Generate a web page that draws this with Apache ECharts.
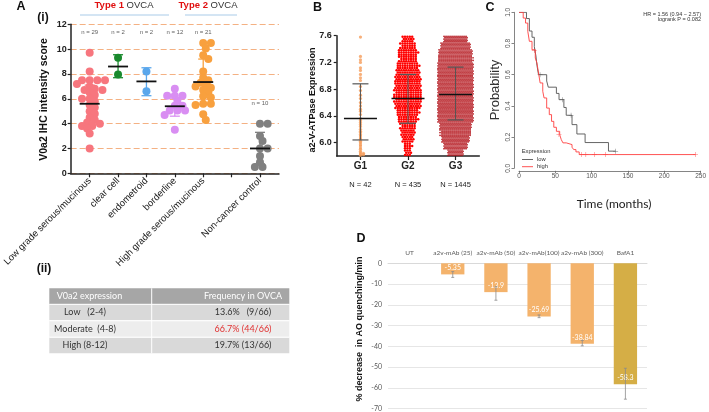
<!DOCTYPE html>
<html><head><meta charset="utf-8">
<script src="https://cdn.jsdelivr.net/npm/echarts@6/dist/echarts.min.js"></script>
<style>html,body{margin:0;padding:0;background:#fff}#c{width:709px;height:412px}</style>
</head><body><div id="c"></div>
<script>
// ---------- Panel A(i) data ----------
const catsA = ['Low grade serous/mucinous','clear cell','endometroid','borderline','High grade serous/mucinous','','Non-cancer control'];
const nA = ['n = 29','n = 2','n = 2','n = 12','n = 21','','n = 10'];
const lowGrade = [9.7, 8.2, 7.5, 7.5, 7.5, 7.5, 7.2, 7.0, 6.8, 6.7, 6.7, 6.5, 6.3, 6.0, 6.0, 5.8, 5.5, 5.3, 5.0, 4.8, 4.5, 4.3, 4.1, 4.0, 3.8, 3.8, 3.6, 3.2, 2.0];
const clearCell = [9.3, 7.95];
const endometroid = [8.2, 6.6];
const borderline = [6.8, 6.25, 6.25, 6.25, 5.85, 5.45, 5.45, 5.05, 5.05, 5.05, 4.7, 3.5];
const highGrade = [10.5, 10.5, 10.05, 9.5, 9.2, 8.2, 7.7, 7.5, 7.3, 7.1, 7.0, 6.9, 6.7, 6.5, 6.2, 6.1, 5.6, 5.6, 5.5, 4.75, 4.3];
const nonCancer = [4.0, 4.0, 3.0, 2.6, 2.0, 2.0, 1.4, 0.9, 0.5, 0.5];
const meanA = [5.6, 8.6, 7.4, 5.4, 7.35, null, 2.0];
const sdLoA = [4.1, 7.7, 6.25, 4.6, 5.55, null, 0.75];
const sdHiA = [7.1, 9.55, 8.5, 6.05, 9.2, null, 3.3];
const colorsA = ['#f7767e','#1a8a2e','#5aa7ec','#d98ef2','#f8a03e',null,'#808080'];
const groupsA = [lowGrade, clearCell, endometroid, borderline, highGrade, null, nonCancer];

// ---------- Panel A(ii) table ----------
const tableHead = ['V0a2 expression','Frequency in OVCA'];
const tableLevel = ['Low   (2-4)','Moderate  (4-8)','High (8-12)'];
const tableFreq = ['13.6%   (9/66)','66.7% (44/66)','19.7% (13/66)'];

// ---------- Panel B data ----------
const catsB = ['G1','G2','G3'];
const nB = ['N = 42','N = 435','N = 1445'];
const g1Values = [7.58, 7.29, 7.24, 7.2, 7.12, 7.08, 7.02, 6.97, 6.93, 6.84, 6.78, 6.71, 6.66, 6.6, 6.55, 6.5, 6.47, 6.42, 6.36, 6.33, 6.3, 6.27, 6.24, 6.2, 6.17, 6.15, 6.12, 6.1, 6.07, 6.05, 6.02, 6.0, 5.97, 5.95, 5.92, 5.9, 5.87, 5.85, 5.84, 5.83, 5.82, 5.81];
const binStartsB = [5.8,5.9,6.0,6.1,6.2,6.3,6.4,6.5,6.6,6.7,6.8,6.9,7.0,7.1,7.2,7.3,7.4,7.5];
const binWidthB = 0.1;
const g2Counts = [9,10,15,18,20,25,28,33,35,35,33,33,30,28,23,25,20,15];
const g3Counts = [40,60,70,78,80,90,90,90,90,90,90,90,90,90,87,85,75,60];
const meanB = [6.36, 6.66, 6.72];
const sdLoB = [6.04, 6.29, 6.34];
const sdHiB = [6.88, 7.02, 7.13];

// ---------- Panel C data ----------
const kmLowT = [0, 10.3, 14.3, 17.9, 21.1, 23.3, 24.7, 26.9, 38.1, 40.3, 51.5, 55.1, 61.8, 65, 73, 79.7, 91, 123.2, 133];
const kmLowP = [1.0, 0.96, 0.88, 0.84, 0.78, 0.72, 0.66, 0.60, 0.56, 0.52, 0.48, 0.44, 0.39, 0.34, 0.28, 0.22, 0.165, 0.11, 0.11];
const censLowT = [29, 59.6, 71.7, 133];
const censLowP = [0.60, 0.44, 0.34, 0.11];
const kmHighT = [0, 5.8, 9, 12.1, 14.3, 17.9, 22.4, 24.7, 26.9, 29.1, 32.7, 34.5, 38.1, 41.7, 44.8, 47.9, 51.5, 56, 58.2, 60.5, 65, 73, 75.3, 78.4, 82.9, 243];
const kmHighP = [1.0, 0.963, 0.931, 0.878, 0.814, 0.76, 0.707, 0.675, 0.611, 0.547, 0.494, 0.451, 0.386, 0.344, 0.301, 0.263, 0.237, 0.216, 0.184, 0.163, 0.152, 0.135, 0.12, 0.105, 0.088, 0.088];
const censHighT = [21, 55, 86, 92, 104, 119, 243];
const censHighP = [0.755, 0.216, 0.088, 0.088, 0.088, 0.088, 0.088];

// ---------- Panel D data ----------
const catsD = ['UT','a2v-mAb (25)','a2v-mAb (50)','a2v-mAb(100)','a2v-mAb (300)','BafA1'];
const valD = [0, -5.35, -13.9, -25.69, -38.84, -58.3];
const errLoD = [null, -6.8, -17.8, -26.2, -39.8, -65.5];
const errHiD = [null, -4.0, -11.3, -24.9, -37.2, -50.6];

// ---------- helpers ----------
const F = 'Liberation Sans, Arial, sans-serif';
const F2 = 'Lato, "Open Sans", sans-serif';

function beeswarm(vals, center, pxPerX, pxPerY, diam, step) {
  const placed = [], out = [];
  vals.forEach(v => {
    const yp = v * pxPerY;
    for (let k = 0; k < 400; k++) {
      const m = k === 0 ? 0 : (k % 2 ? Math.ceil(k / 2) : -Math.ceil(k / 2));
      const xp = m * step;
      if (placed.every(p => (p[0] - xp) ** 2 + (p[1] - yp) ** 2 >= diam * diam)) {
        placed.push([xp, yp]); out.push([center + xp / pxPerX, v]); break;
      }
    }
  });
  return out;
}

const chart = echarts.init(document.getElementById('c'), null, {renderer: 'canvas'});
const series = [];
// A scatter
groupsA.forEach((g, i) => {
  if (!g) return;
  series.push({type: 'scatter', xAxisIndex: 0, yAxisIndex: 0, symbolSize: 8,
    itemStyle: {color: colorsA[i], opacity: 1}, data: beeswarm(g, i, 28.92, 12.42, 5.6, 2.6), z: 2});
});
// A n labels
series.push({type: 'scatter', xAxisIndex: 0, yAxisIndex: 0, symbolSize: 0,
  data: nA.map((t, i) => t ? [i, i === 6 ? 5.6 : 11.35] : null).filter(Boolean),
  label: {show: true, position: 'inside', fontSize: 6, color: '#333', fontFamily: F,
    formatter: p => nA[Math.round(p.value[0])]}});
// A error bars and means
series.push({type: 'custom', xAxisIndex: 0, yAxisIndex: 0, z: 5,
  data: meanA.map((m, i) => m == null ? null : [i, m, sdLoA[i], sdHiA[i]]).filter(Boolean),
  renderItem: (params, api) => {
    const i = api.value(0);
    const pm = api.coord([i, api.value(1)]), pl = api.coord([i, api.value(2)]), ph = api.coord([i, api.value(3)]);
    const col = colorsA[i];
    return {type: 'group', children: [
      {type: 'line', shape: {x1: pl[0], y1: pl[1], x2: ph[0], y2: ph[1]}, style: {stroke: col, lineWidth: 1.3}},
      {type: 'line', shape: {x1: pl[0] - 5, y1: pl[1], x2: pl[0] + 5, y2: pl[1]}, style: {stroke: col, lineWidth: 1.3}},
      {type: 'line', shape: {x1: ph[0] - 5, y1: ph[1], x2: ph[0] + 5, y2: ph[1]}, style: {stroke: col, lineWidth: 1.3}},
      {type: 'line', shape: {x1: pm[0] - 10, y1: pm[1], x2: pm[0] + 10, y2: pm[1]}, style: {stroke: '#111', lineWidth: 1.8}}
    ]};
  }});
// B G1
series.push({type: 'scatter', xAxisIndex: 1, yAxisIndex: 1, symbolSize: 3.2,
  itemStyle: {color: '#f59c5a'}, data: beeswarm(g1Values, 0, 47.53, 167.25, 3.0, 1.5)});
function swarmRender(cat, radius, sp, rowGap, color) {
  return (params, api) => {
    const lo = api.value(0), cnt = api.value(1);
    const pBot = api.coord([cat, lo]), pTop = api.coord([cat, lo + binWidthB]);
    const h = pBot[1] - pTop[1];
    const rows = Math.max(1, Math.round(h / rowGap));
    const children = [];
    for (let r = 0; r < rows; r++) {
      const nr = Math.round(cnt * (r + 1) / rows) - Math.round(cnt * r / rows);
      const y = pBot[1] - (r + 0.5) * h / rows;
      const shift = (r % 2 ? 0.25 : -0.25) * sp;
      for (let j = 0; j < nr; j++) {
        children.push({type: 'circle', shape: {cx: pTop[0] + (j - (nr - 1) / 2) * sp + shift, cy: y, r: radius}, style: {fill: color}});
      }
    }
    return {type: 'group', children};
  };
}
series.push({type: 'custom', xAxisIndex: 1, yAxisIndex: 1,
  data: binStartsB.map((b, i) => [b, g2Counts[i]]), renderItem: swarmRender(1, 1.25, 2.4, 2.23, '#ff0000')});
series.push({type: 'custom', xAxisIndex: 1, yAxisIndex: 1,
  data: binStartsB.map((b, i) => [b, g3Counts[i]]), renderItem: swarmRender(2, 0.85, 2.0, 1.34, '#b3141b')});
series.push({type: 'custom', xAxisIndex: 1, yAxisIndex: 1, z: 5,
  data: meanB.map((m, i) => [i, m, sdLoB[i], sdHiB[i]]),
  renderItem: (params, api) => {
    const i = api.value(0);
    const pm = api.coord([i, api.value(1)]), pl = api.coord([i, api.value(2)]), ph = api.coord([i, api.value(3)]);
    const col = '#555';
    return {type: 'group', children: [
      {type: 'line', shape: {x1: pl[0], y1: pl[1], x2: ph[0], y2: ph[1]}, style: {stroke: col, lineWidth: 1}},
      {type: 'line', shape: {x1: pl[0] - 8, y1: pl[1], x2: pl[0] + 8, y2: pl[1]}, style: {stroke: col, lineWidth: 1.2}},
      {type: 'line', shape: {x1: ph[0] - 8, y1: ph[1], x2: ph[0] + 8, y2: ph[1]}, style: {stroke: col, lineWidth: 1.2}},
      {type: 'line', shape: {x1: pm[0] - 16.5, y1: pm[1], x2: pm[0] + 16.5, y2: pm[1]}, style: {stroke: '#111', lineWidth: 1.5}}
    ]};
  }});
// C (x axis index 3)
const plusSym = 'path://M-1,-0.1L1,-0.1L1,0.1L-1,0.1Z M-0.1,-1L0.1,-1L0.1,1L-0.1,1Z';
series.push({type: 'line', xAxisIndex: 3, yAxisIndex: 2, step: 'end', symbol: 'none',
  lineStyle: {color: '#555', width: 0.9}, data: kmLowT.map((t, i) => [t, kmLowP[i]])});
series.push({type: 'line', xAxisIndex: 3, yAxisIndex: 2, step: 'end', symbol: 'none',
  lineStyle: {color: '#ff4040', width: 0.9}, data: kmHighT.map((t, i) => [t, kmHighP[i]])});
series.push({type: 'scatter', xAxisIndex: 3, yAxisIndex: 2, symbol: plusSym, symbolSize: 5,
  itemStyle: {color: '#555'}, data: censLowT.map((t, i) => [t, censLowP[i]])});
series.push({type: 'scatter', xAxisIndex: 3, yAxisIndex: 2, symbol: plusSym, symbolSize: 5,
  itemStyle: {color: '#ff4040'}, data: censHighT.map((t, i) => [t, censHighP[i]])});
// D
series.push({type: 'bar', xAxisIndex: 4, yAxisIndex: 3, barWidth: '54%', data: valD,
  itemStyle: {color: p => p.dataIndex === 5 ? '#d5ae46' : '#f4b36c'},
  label: {show: true, position: 'insideBottom', distance: 3, color: '#fff', fontSize: 7, fontFamily: F2,
    formatter: p => p.value === 0 ? '' : String(p.value)}});
series.push({type: 'custom', xAxisIndex: 4, yAxisIndex: 3, z: 5,
  data: errLoD.map((l, i) => l == null ? null : [i, l, errHiD[i]]).filter(Boolean),
  renderItem: (params, api) => {
    const i = api.value(0);
    const pl = api.coord([i, api.value(1)]), ph = api.coord([i, api.value(2)]);
    const col = '#8c8c8c';
    return {type: 'group', children: [
      {type: 'line', shape: {x1: pl[0], y1: pl[1], x2: ph[0], y2: ph[1]}, style: {stroke: col, lineWidth: 0.8}},
      {type: 'line', shape: {x1: pl[0] - 1.5, y1: pl[1], x2: pl[0] + 1.5, y2: pl[1]}, style: {stroke: col, lineWidth: 0.8}},
      {type: 'line', shape: {x1: ph[0] - 1.5, y1: ph[1], x2: ph[0] + 1.5, y2: ph[1]}, style: {stroke: col, lineWidth: 0.8}}
    ]};
  }});

// ---------- graphics (text, headings, table) ----------
function T(x, y, text, size, o = {}) {
  const style = {text, fontSize: size, fontWeight: o.bold ? 'bold' : 'normal', fontFamily: o.font || F,
    fill: o.color || '#111', align: o.align || 'center', verticalAlign: 'middle'};
  if (o.rich) style.rich = o.rich;
  return {type: 'text', x, y, rotation: o.rot || 0, z: 10, style};
}
const richType = {r: {fill: '#e01010', fontWeight: 'bold', fontSize: 9.5, fontFamily: F}, k: {fill: '#333', fontSize: 9.5, fontFamily: F}};
const graphic = [
  T(21, 7, 'A', 12.5, {bold: true}), T(317.5, 8, 'B', 12.5, {bold: true}),
  T(490, 8, 'C', 12.5, {bold: true}), T(361, 239, 'D', 12.5, {bold: true}),
  T(43, 17.5, '(i)', 12, {bold: true}), T(44, 269, '(ii)', 12, {bold: true}),
  T(124, 5.5, '{r|Type 1} {k|OVCA}', 9.5, {rich: richType}),
  T(208, 5.5, '{r|Type 2} {k|OVCA}', 9.5, {rich: richType}),
  {type: 'line', shape: {x1: 80, y1: 15, x2: 169, y2: 15}, style: {stroke: '#a9cbe8', lineWidth: 1}},
  {type: 'line', shape: {x1: 185, y1: 15, x2: 237, y2: 15}, style: {stroke: '#a9cbe8', lineWidth: 1}},
  T(44, 99.5, 'V0a2 IHC intensity score', 10.5, {bold: true, rot: Math.PI / 2}),
  T(312.7, 100, 'a2-V-ATPase Expression', 9, {bold: true, rot: Math.PI / 2}),
  T(495, 90, 'Probability', 13, {rot: Math.PI / 2, color: '#333'}),
  T(614, 204, 'Time (months)', 12, {font: F2, color: '#222'}),
  T(360, 329, '% decrease  in AO quenching/min', 9, {bold: true, rot: Math.PI / 2}),
  T(701, 14.3, 'HR = 1.56 (0.94 \u2212 2.57)', 5.5, {align: 'right', color: '#333'}),
  T(701, 19.8, 'logrank P = 0.082', 5.5, {align: 'right', color: '#333'}),
  T(521.7, 151, 'Expression', 5.8, {align: 'left', color: '#333'}),
  {type: 'line', shape: {x1: 522, y1: 159.5, x2: 533, y2: 159.5}, style: {stroke: '#555', lineWidth: 0.9}},
  {type: 'line', shape: {x1: 522, y1: 166.7, x2: 533, y2: 166.7}, style: {stroke: '#ff4040', lineWidth: 0.9}},
  T(537, 159.5, 'low', 5.8, {align: 'left', color: '#333'}),
  T(537, 166.7, 'high', 5.8, {align: 'left', color: '#333'})
];
const tx = 49.3, tw = 240, cx = 151.7;
const rowY = [288.3, 304.3, 320.8, 337.3], rowH = [15.7, 16, 16, 16];
const rowFill = ['#a6a6a6', '#d9d9d9', '#ededed', '#d9d9d9'];
rowY.forEach((y, r) => graphic.push({type: 'rect', shape: {x: tx, y, width: tw, height: rowH[r]}, style: {fill: rowFill[r]}}));
rowY.slice(1).forEach(y => graphic.push({type: 'line', shape: {x1: tx, y1: y, x2: tx + tw, y2: y}, style: {stroke: '#fff', lineWidth: 1}}));
graphic.push({type: 'line', shape: {x1: cx, y1: 288.3, x2: cx, y2: 353.3}, style: {stroke: '#fff', lineWidth: 1}});
graphic.push(T(56.7, 296.2, tableHead[0], 9, {align: 'left', color: '#fff', font: F2}));
graphic.push(T(243, 296.2, tableHead[1], 9, {color: '#fff', font: F2}));
tableLevel.forEach((t, r) => graphic.push(T(85, rowY[r + 1] + 8, t, 9, {color: '#333', font: F2})));
tableFreq.forEach((t, r) => graphic.push(T(243, rowY[r + 1] + 8, t, 9, {color: r === 1 ? '#e03030' : '#333', font: F2})));

const blackLine = () => ({show: true, onZero: false, lineStyle: {color: '#222', width: 1.5}});
const option = {
  animation: false,
  backgroundColor: '#fff',
  grid: [
    {left: 66.7, top: 24.3, width: 212.3, height: 149},
    {left: 336.7, top: 35.7, width: 142.6, height: 120.3},
    {left: 519, top: 12.3, width: 186, height: 156},
    {left: 388, top: 263.3, width: 259, height: 145.4}
  ],
  xAxis: [
    {gridIndex: 0, type: 'value', min: -0.67, max: 6.67, axisLine: blackLine(),
      axisTick: {show: true, customValues: [0, 1, 2, 3, 4, 5, 6], length: 4, lineStyle: {color: '#222', width: 1.2}},
      axisLabel: {customValues: [0, 1, 2, 3, 4, 6], formatter: v => catsA[Math.round(v)], rotate: 45, fontSize: 9.5, color: '#222', margin: 6, fontFamily: F},
      splitLine: {show: false}},
    {gridIndex: 1, type: 'value', min: -0.5, max: 2.5, axisLine: blackLine(),
      axisTick: {show: true, customValues: [0, 1, 2], length: 4, lineStyle: {color: '#222', width: 1.2}},
      axisLabel: {customValues: [0, 1, 2], formatter: v => catsB[Math.round(v)], fontSize: 10, fontWeight: 'bold', color: '#222', margin: 5, fontFamily: F},
      splitLine: {show: false}},
    {gridIndex: 1, type: 'value', min: -0.5, max: 2.5, position: 'bottom', offset: 25,
      axisLine: {show: false}, axisTick: {show: false},
      axisLabel: {customValues: [0, 1, 2], formatter: v => nB[Math.round(v)], fontSize: 7.5, color: '#222', margin: 0, fontFamily: F},
      splitLine: {show: false}},
    {gridIndex: 2, type: 'value', min: 0, max: 250, interval: 50, offset: 2.5,
      axisLine: {show: true, onZero: false, lineStyle: {color: '#666', width: 0.8}},
      axisTick: {show: true, length: 2.5, lineStyle: {color: '#666', width: 0.8}},
      axisLabel: {fontSize: 6.5, color: '#555', margin: 2, fontFamily: F},
      splitLine: {show: false}},
    {gridIndex: 3, type: 'category', data: catsD, position: 'top',
      axisLine: {show: true, onZero: false, lineStyle: {color: '#d9d9d9', width: 1}}, axisTick: {show: false},
      axisLabel: {interval: 0, fontSize: 6.5, color: '#595959', margin: 7, fontFamily: F2, hideOverlap: false}}
  ],
  yAxis: [
    {gridIndex: 0, type: 'value', min: 0, max: 12, interval: 2, axisLine: blackLine(),
      axisTick: {show: true, length: 3, lineStyle: {color: '#222', width: 1.2}},
      axisLabel: {fontSize: 9, fontWeight: 'bold', color: '#222', margin: 4, fontFamily: F},
      splitLine: {show: true, lineStyle: {color: '#f4b183', type: [6, 3], width: 1}}},
    {gridIndex: 1, type: 'value', min: 5.8, max: 7.6, axisLine: blackLine(),
      axisTick: {show: true, customValues: [6.0, 6.4, 6.8, 7.2, 7.6], length: 3, lineStyle: {color: '#222', width: 1.2}},
      axisLabel: {customValues: [6.0, 6.4, 6.8, 7.2, 7.6], formatter: v => v.toFixed(1), fontSize: 9, fontWeight: 'bold', color: '#222', margin: 5, fontFamily: F},
      splitLine: {show: false}},
    {gridIndex: 2, type: 'value', min: 0, max: 1, interval: 0.2, offset: 5,
      axisLine: {show: true, onZero: false, lineStyle: {color: '#666', width: 0.8}},
      axisTick: {show: true, length: 2.5, lineStyle: {color: '#666', width: 0.8}},
      axisLabel: {rotate: 90, formatter: v => v.toFixed(1), fontSize: 6.5, color: '#555', margin: 2, fontFamily: F},
      splitLine: {show: false}},
    {gridIndex: 3, type: 'value', min: -70, max: 0, interval: 10,
      axisLine: {show: false}, axisTick: {show: false},
      axisLabel: {fontSize: 7, color: '#595959', margin: 6, fontFamily: F2},
      splitLine: {show: true, lineStyle: {color: '#e6e6e6', width: 1}}}
  ],
  series,
  graphic
};
chart.setOption(option);
</script></body></html>
